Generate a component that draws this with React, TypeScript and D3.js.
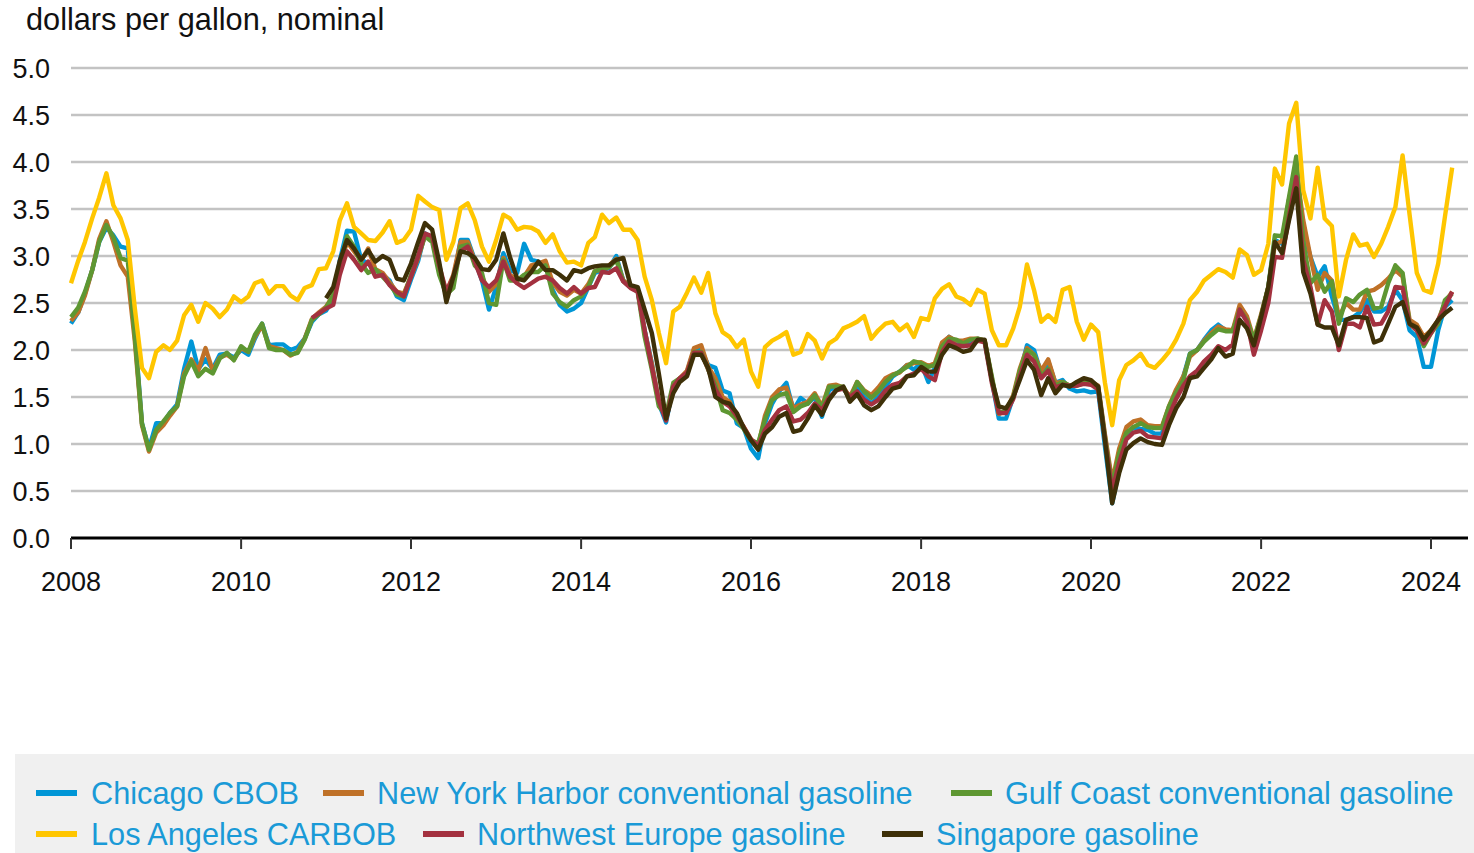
import * as d3 from "d3";

// monthly prices, dollars per gallon (first value = start month)
const chicagoStart = "2008-01";
const chicago = [
  2.28, 2.4, 2.6, 2.85, 3.15, 3.3, 3.22, 3.1, 3.08, 2.2, 1.22, 0.95, 1.22, 1.22, 1.33, 1.42, 1.8, 2.09, 1.8, 1.9, 1.8, 1.95, 1.96, 1.92, 2.0, 1.95, 2.12, 2.28, 2.05, 2.06, 2.06, 2.0, 2.03, 2.12,
  2.3, 2.38, 2.42, 2.55, 2.95, 3.27, 3.26, 2.96, 2.92, 2.85, 2.8, 2.74, 2.57, 2.53, 2.75, 2.95, 3.24, 3.19, 2.85, 2.57, 2.74, 3.17, 3.17, 2.96, 2.74, 2.43, 2.67, 3.03, 2.85, 2.82, 3.13, 2.96, 2.94, 2.9,
  2.64, 2.48, 2.41, 2.44, 2.5, 2.67, 2.82, 2.85, 2.87, 3.0, 2.74, 2.67, 2.64, 2.21, 1.86, 1.43, 1.23, 1.61, 1.68, 1.77, 2.0, 2.0, 1.84, 1.81, 1.57, 1.54,
  1.22, 1.17, 0.95, 0.85, 1.22, 1.43, 1.56, 1.65, 1.36, 1.49, 1.43, 1.5, 1.29, 1.57, 1.61, 1.59, 1.49, 1.61, 1.5, 1.43, 1.5, 1.61, 1.72, 1.77, 1.84, 1.79, 1.86, 1.66, 1.81, 2.04, 2.14, 2.09, 2.07, 2.09,
  2.12, 2.09, 1.68, 1.27, 1.27, 1.5, 1.75, 2.05, 2.0, 1.75, 1.88, 1.65, 1.68, 1.59, 1.56, 1.57, 1.55, 1.56, 0.97, 0.37, 0.72, 1.08, 1.18, 1.16, 1.15, 1.11, 1.11, 1.36, 1.55,
  1.72, 1.96, 2.0, 2.11, 2.21, 2.27, 2.21, 2.21, 2.41, 2.32, 2.09, 2.36, 2.67, 3.17, 3.13, 3.6, 3.95, 3.28, 2.99, 2.78, 2.89, 2.57, 2.32, 2.32, 2.35, 2.4, 2.53, 2.41, 2.41, 2.46, 2.64, 2.53, 2.21, 2.14, 1.82, 1.82, 2.21, 2.46, 2.53,
];

const newYorkStart = "2008-01";
const newYork = [
  2.31, 2.4, 2.58, 2.85, 3.18, 3.37, 3.15, 2.9, 2.78, 2.1, 1.2, 0.92, 1.12, 1.2, 1.3, 1.4, 1.75, 1.9, 1.78, 2.02, 1.78, 1.92, 1.95, 1.9, 2.02, 1.98, 2.14, 2.26, 2.04, 2.02, 2.0, 1.94, 1.98, 2.12,
  2.33, 2.4, 2.46, 2.58, 2.88, 3.15, 3.05, 2.95, 3.08, 2.86, 2.82, 2.72, 2.62, 2.6, 2.78, 2.98, 3.22, 3.18, 2.86, 2.62, 2.8, 3.15, 3.15, 2.95, 2.78, 2.62, 2.7, 2.98, 2.8, 2.75, 2.78, 2.9, 2.92, 2.95,
  2.72, 2.62, 2.58, 2.64, 2.6, 2.7, 2.84, 2.86, 2.9, 2.97, 2.74, 2.68, 2.64, 2.2, 1.85, 1.45, 1.28, 1.62, 1.7, 1.78, 2.02, 2.05, 1.82, 1.7, 1.5, 1.45,
  1.28, 1.18, 1.05, 0.98, 1.3, 1.5, 1.58, 1.6, 1.38, 1.42, 1.45, 1.54, 1.4, 1.62, 1.63, 1.6, 1.5, 1.66, 1.57, 1.52, 1.6, 1.7, 1.74, 1.76, 1.84, 1.86, 1.87, 1.83, 1.86, 2.08, 2.14, 2.1, 2.1, 2.12,
  2.12, 2.1, 1.7, 1.32, 1.35, 1.52, 1.8, 2.02, 1.95, 1.78, 1.9, 1.65, 1.66, 1.62, 1.64, 1.66, 1.66, 1.62, 1.1, 0.6, 0.95, 1.18, 1.24, 1.26, 1.2, 1.19, 1.19, 1.4, 1.58,
  1.72, 1.93, 2.0, 2.1, 2.18, 2.25, 2.22, 2.21, 2.48, 2.36, 2.11, 2.38, 2.67, 3.12, 3.16, 3.6, 3.91, 3.38, 2.99, 2.64, 2.82, 2.74, 2.35, 2.5, 2.43, 2.43, 2.62, 2.64, 2.69, 2.76, 2.85, 2.78, 2.32, 2.27, 2.14, 2.21, 2.32, 2.5, 2.62,
];

const gulfStart = "2008-01";
const gulf = [
  2.35, 2.45, 2.62, 2.85, 3.15, 3.33, 3.2, 2.98, 2.95, 2.15, 1.22, 0.94, 1.15, 1.24, 1.33, 1.4, 1.72, 1.88, 1.72, 1.8, 1.75, 1.91, 1.97, 1.89, 2.04, 1.98, 2.16, 2.28, 2.02, 2.0, 2.0, 1.95, 1.97, 2.11,
  2.32, 2.38, 2.45, 2.58, 2.9, 3.21, 3.1, 2.92, 2.82, 2.86, 2.78, 2.7, 2.59, 2.57, 2.8, 3.0, 3.21, 3.15, 2.8, 2.59, 2.66, 3.1, 3.12, 2.9, 2.82, 2.5, 2.48, 2.96, 2.74, 2.74, 2.8, 2.83, 2.83, 2.9,
  2.6, 2.51, 2.46, 2.53, 2.57, 2.67, 2.84, 2.86, 2.88, 2.96, 2.73, 2.67, 2.62, 2.14, 1.79, 1.4, 1.31, 1.65, 1.7, 1.74, 1.98, 1.98, 1.79, 1.63, 1.36, 1.33,
  1.26, 1.16, 1.04, 1.01, 1.26, 1.47, 1.52, 1.54, 1.34, 1.4, 1.43, 1.52, 1.38, 1.61, 1.61, 1.61, 1.47, 1.66, 1.56, 1.49, 1.56, 1.66, 1.73, 1.77, 1.82, 1.88, 1.86, 1.82, 1.84, 2.04, 2.12, 2.11, 2.07, 2.11,
  2.12, 2.1, 1.72, 1.33, 1.35, 1.5, 1.78, 2.0, 1.95, 1.72, 1.8, 1.62, 1.66, 1.62, 1.62, 1.65, 1.65, 1.6, 1.08, 0.55, 0.9, 1.12, 1.18, 1.22, 1.18, 1.17, 1.17, 1.4, 1.55,
  1.68, 1.96, 2.0, 2.09, 2.16, 2.22, 2.2, 2.2, 2.43, 2.32, 2.11, 2.36, 2.67, 3.22, 3.21, 3.63, 4.06, 3.15, 2.71, 2.8, 2.62, 2.73, 2.28, 2.55, 2.51, 2.59, 2.64, 2.44, 2.46, 2.71, 2.9, 2.82, 2.28, 2.21, 2.04, 2.18, 2.28, 2.53, 2.6,
];

const losAngelesStart = "2008-01";
const losAngeles = [
  2.71, 2.95, 3.15, 3.4, 3.62, 3.88, 3.54, 3.4, 3.17, 2.45, 1.81, 1.7, 1.98, 2.05, 2.0, 2.1, 2.37, 2.48, 2.3, 2.5, 2.44, 2.35, 2.43, 2.57, 2.51, 2.57, 2.71, 2.74, 2.6, 2.68, 2.68, 2.58, 2.53, 2.66,
  2.69, 2.86, 2.87, 3.05, 3.38, 3.56, 3.31, 3.24, 3.17, 3.16, 3.25, 3.37, 3.14, 3.17, 3.28, 3.64, 3.58, 3.52, 3.49, 2.96, 3.15, 3.51, 3.56, 3.38, 3.1, 2.94, 3.17, 3.44, 3.4, 3.28, 3.31, 3.3, 3.26, 3.14,
  3.23, 3.05, 2.93, 2.94, 2.9, 3.14, 3.2, 3.44, 3.35, 3.41, 3.28, 3.28, 3.17, 2.78, 2.53, 2.18, 1.86, 2.41, 2.46, 2.61, 2.77, 2.61, 2.82, 2.39, 2.19, 2.14,
  2.03, 2.11, 1.77, 1.61, 2.03, 2.1, 2.14, 2.19, 1.95, 1.98, 2.17, 2.1, 1.91, 2.07, 2.12, 2.23, 2.26, 2.3, 2.36, 2.12, 2.21, 2.28, 2.3, 2.21, 2.27, 2.14, 2.34, 2.32, 2.55, 2.65, 2.7, 2.57, 2.54, 2.48,
  2.64, 2.6, 2.21, 2.05, 2.05, 2.23, 2.46, 2.91, 2.64, 2.3, 2.37, 2.3, 2.64, 2.67, 2.3, 2.11, 2.27, 2.19, 1.65, 1.2, 1.68, 1.84, 1.89, 1.96, 1.84, 1.81, 1.89, 1.98, 2.11,
  2.28, 2.53, 2.62, 2.74, 2.8, 2.86, 2.83, 2.77, 3.07, 3.01, 2.8, 2.85, 3.13, 3.93, 3.76, 4.41, 4.63, 3.7, 3.4, 3.94, 3.4, 3.32, 2.57, 2.96, 3.23, 3.11, 3.13, 2.99, 3.13, 3.31, 3.52, 4.07, 3.44, 2.82, 2.64, 2.61, 2.92, 3.42, 3.94,
];

const europeStart = "2010-11";
const europe = [
  2.34, 2.39, 2.44, 2.48, 2.8, 3.05, 2.96, 2.85, 2.94, 2.78, 2.8, 2.69, 2.62, 2.57, 2.78, 3.0, 3.24, 3.21, 2.9, 2.62, 2.78, 3.05, 3.1, 2.94, 2.74, 2.67, 2.74, 2.94, 2.78, 2.71, 2.66, 2.71, 2.76, 2.78,
  2.74, 2.66, 2.6, 2.67, 2.6, 2.66, 2.67, 2.83, 2.82, 2.87, 2.73, 2.66, 2.62, 2.21, 1.82, 1.46, 1.25, 1.61, 1.7, 1.76, 1.97, 1.97, 1.8, 1.58, 1.45, 1.4,
  1.3, 1.18, 1.05, 0.98, 1.15, 1.26, 1.36, 1.4, 1.24, 1.26, 1.33, 1.43, 1.36, 1.49, 1.57, 1.59, 1.5, 1.56, 1.47, 1.42, 1.47, 1.57, 1.63, 1.65, 1.72, 1.75, 1.8, 1.72, 1.68, 1.98, 2.09, 2.05, 2.04, 2.05,
  2.1, 2.08, 1.65, 1.33, 1.33, 1.48, 1.72, 1.95, 1.88, 1.7, 1.78, 1.6, 1.63, 1.62, 1.62, 1.64, 1.63, 1.58, 1.05, 0.5, 0.8, 1.05, 1.12, 1.14, 1.08, 1.07, 1.06, 1.3, 1.48,
  1.62, 1.72, 1.78, 1.88, 1.95, 2.04, 2.0, 2.06, 2.43, 2.3, 1.95, 2.21, 2.5, 2.99, 2.98, 3.42, 3.84, 2.96, 2.67, 2.27, 2.53, 2.41, 2.0, 2.28, 2.28, 2.24, 2.46, 2.27, 2.28, 2.41, 2.67, 2.66, 2.28, 2.21, 2.07, 2.18, 2.32, 2.46, 2.62,
];

const singaporeStart = "2011-01";
const singapore = [
  2.55, 2.67, 2.95, 3.17, 3.08, 2.96, 3.06, 2.94, 3.0, 2.96, 2.76, 2.74, 2.92, 3.15, 3.35, 3.28, 2.94, 2.51, 2.78, 3.05, 3.03, 2.98, 2.86, 2.85, 2.96, 3.24, 2.99, 2.76, 2.74, 2.83, 2.94, 2.85,
  2.85, 2.8, 2.74, 2.85, 2.83, 2.87, 2.89, 2.9, 2.9, 2.96, 2.98, 2.69, 2.67, 2.43, 2.18, 1.75, 1.27, 1.54, 1.66, 1.72, 1.95, 1.95, 1.81, 1.5, 1.45, 1.43,
  1.33, 1.17, 1.04, 0.94, 1.11, 1.18, 1.29, 1.33, 1.13, 1.15, 1.27, 1.41, 1.31, 1.47, 1.57, 1.61, 1.45, 1.53, 1.41, 1.36, 1.4, 1.5, 1.59, 1.61, 1.72, 1.73, 1.82, 1.77, 1.77, 1.95, 2.05, 2.02, 1.98, 2.0,
  2.11, 2.11, 1.68, 1.4, 1.38, 1.5, 1.68, 1.89, 1.79, 1.52, 1.7, 1.54, 1.63, 1.61, 1.66, 1.7, 1.68, 1.61, 1.04, 0.37, 0.69, 0.94, 1.01, 1.06, 1.02, 1.0, 0.99, 1.2, 1.38,
  1.5, 1.7, 1.72, 1.81, 1.9, 2.02, 1.93, 1.96, 2.32, 2.23, 2.05, 2.35, 2.67, 3.15, 3.03, 3.38, 3.72, 2.83, 2.6, 2.27, 2.24, 2.24, 2.05, 2.32, 2.35, 2.35, 2.34, 2.08, 2.11, 2.28, 2.46, 2.51, 2.28, 2.24, 2.11, 2.21, 2.32, 2.39, 2.45,
];

const seriesNames = [
  "Chicago CBOB",
  "New York Harbor conventional gasoline",
  "Gulf Coast conventional gasoline",
  "Los Angeles CARBOB",
  "Northwest Europe gasoline",
  "Singapore gasoline",
];
const seriesColors = ["#0096d6", "#bf7128", "#5e9732", "#ffc600", "#a3313f", "#3e3008"];
const yTicks = [0, 0.5, 1, 1.5, 2, 2.5, 3, 3.5, 4, 4.5, 5];
const xTickYears = [2008, 2010, 2012, 2014, 2016, 2018, 2020, 2022, 2024];

const parseMonth = d3.timeParse("%Y-%m");

const toPoints = (start: string, values: number[]) => {
  const s = parseMonth(start) as Date;
  return values.map((v, i) => ({ date: d3.timeMonth.offset(s, i), value: v }));
};

const series = [
  toPoints(chicagoStart, chicago),
  toPoints(newYorkStart, newYork),
  toPoints(gulfStart, gulf),
  toPoints(losAngelesStart, losAngeles),
  toPoints(europeStart, europe),
  toPoints(singaporeStart, singapore),
];

// legend layout: [row, swatch x, text x]
const legendSpots = [
  [0, 36, 91],
  [0, 323, 377],
  [0, 951, 1005],
  [1, 36, 91],
  [1, 423, 477],
  [1, 882, 936],
];

const App = () => {
  const width = 1474;
  const height = 853;
  const left = 71;
  const right = 1468;

  const x = d3
    .scaleTime()
    .domain([new Date(2008, 0, 1), new Date(2024, 0, 1)])
    .range([left, 1431]);
  const y = d3.scaleLinear().domain([0, 5]).range([538, 68]);

  const line = d3
    .line<{ date: Date; value: number }>()
    .x((d) => x(d.date))
    .y((d) => y(d.value));

  const font = "'Liberation Sans', Arial, sans-serif";

  return (
    <svg
      width={width}
      height={height}
      style={{ position: "absolute", left: 0, top: 0, background: "#fff" }}
      fontFamily={font}
    >
      <text x={26} y={30} fontSize={30.7} fill="#111">
        dollars per gallon, nominal
      </text>

      {yTicks.map((t) => (
        <g key={t}>
          {t > 0 && (
            <line x1={left} x2={right} y1={y(t)} y2={y(t)} stroke="#c3c3c3" strokeWidth={2.5} />
          )}
          <text x={50} y={y(t)} dy="0.36em" textAnchor="end" fontSize={27} fill="#111">
            {t.toFixed(1)}
          </text>
        </g>
      ))}

      {series.map((s, i) => (
        <path
          key={seriesNames[i]}
          d={line(s) ?? ""}
          fill="none"
          stroke={seriesColors[i]}
          strokeWidth={4.4}
          strokeLinejoin="round"
        />
      ))}

      <line x1={left} x2={right} y1={y(0)} y2={y(0)} stroke="#000" strokeWidth={3} />
      {xTickYears.map((yr) => {
        const px = x(new Date(yr, 0, 1));
        return (
          <g key={yr}>
            <line x1={px} x2={px} y1={y(0)} y2={y(0) + 11} stroke="#333" strokeWidth={2} />
            <text x={px} y={591} textAnchor="middle" fontSize={27} fill="#111">
              {yr}
            </text>
          </g>
        );
      })}

      <rect x={15} y={754} width={width - 15} height={height - 754} fill="#f0f0f0" />
      {seriesNames.map((name, i) => {
        const [row, sx, tx] = legendSpots[i];
        const cy = 793 + row * 41;
        return (
          <g key={name}>
            <rect x={sx} y={cy - 3} width={41} height={6} fill={seriesColors[i]} />
            <text x={tx} y={cy + 11} fontSize={30.7} fill="#1a9ad7">
              {name}
            </text>
          </g>
        );
      })}
    </svg>
  );
};

export default App;
